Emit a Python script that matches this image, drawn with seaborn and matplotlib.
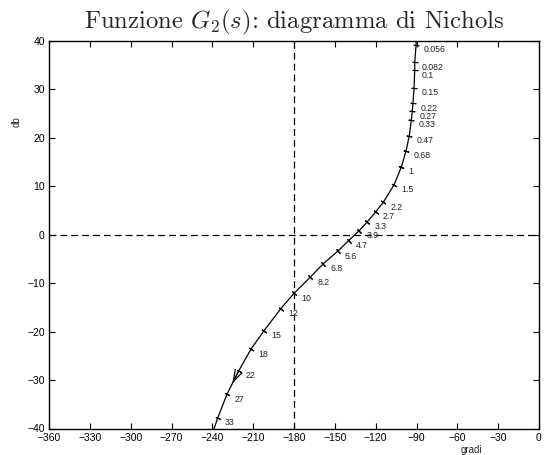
import numpy as np
import pandas as pd
import matplotlib
matplotlib.use("Agg")
import matplotlib.pyplot as plt
import seaborn as sns

# ---- data ----
freq_labels = ["0.056", "0.082", "0.1", "0.15", "0.22", "0.27", "0.33", "0.47",
               "0.68", "1", "1.5", "2.2", "2.7", "3.3", "3.9", "4.7", "5.6",
               "6.8", "8.2", "10", "12", "15", "18", "22", "27", "33"]
phase = [-90.3, -91.3, -91.3, -91.8, -92.6, -93.1, -93.8, -95.3,
         -97.7, -101.1, -106.5, -114.4, -120.0, -126.1, -132.2, -139.8, -147.9,
         -158.5, -168.2, -180.0, -189.8, -202.0, -211.6, -220.6, -229.2, -236.0]
mag = [39.2, 35.6, 34.0, 30.4, 27.1, 25.5, 23.7, 20.4,
       17.3, 14.0, 10.3, 6.7, 4.7, 2.7, 0.8, -1.2, -3.4,
       -6.0, -8.8, -12.1, -15.3, -19.8, -23.6, -28.1, -32.9, -37.8]
# curve ends outside the visible window
phase_start, mag_start = [-90.1], [42.0]
phase_end, mag_end = [-240.6], [-41.5]
# direction arrow on the curve
arrow_phase = [-220.6, -225.3]
arrow_mag = [-28.1, -30.7]

xticks = list(range(-360, 1, 30))
yticks = list(range(-40, 41, 10))

# ---- style ----
sns.set_theme(style="ticks")
plt.rcParams["font.family"] = ["Liberation Sans", "DejaVu Sans"]
plt.rcParams["mathtext.fontset"] = "cm"
plt.rcParams["axes.unicode_minus"] = True

fig = plt.figure(figsize=(5.44, 4.55), dpi=100)
fig.subplots_adjust(left=49/544, right=539/544, bottom=1-428.5/455, top=1-41/455)
ax = fig.add_subplot(111)

curve = pd.DataFrame({"phase": phase_start + phase + phase_end,
                      "mag": mag_start + mag + mag_end})
sns.lineplot(data=curve, x="phase", y="mag", sort=False, estimator=None,
             color="black", lw=0.9, ax=ax)

ax.set_xlim(-360, 0)
ax.set_ylim(-40, 40)
ax.set_xticks(xticks)
ax.set_yticks(yticks)

# reference dashed lines
ax.axvline(-180, color="black", lw=0.9, ls=(0, (5.5, 3.2)))
ax.axhline(0, color="black", lw=0.9, ls=(0, (5.5, 3.2)))

# frequency tick marks perpendicular to the curve
pts = ax.transData.transform(np.column_stack([phase, mag]))
n = len(phase)
for i in range(n):
    a = pts[max(i - 1, 0)]
    b = pts[min(i + 1, n - 1)]
    ang = np.degrees(np.arctan2(b[1] - a[1], b[0] - a[0]))
    ax.plot([phase[i]], [mag[i]], marker=(2, 2, ang), markersize=4,
            markeredgewidth=0.8, color="black", ls="none")
    ax.annotate(freq_labels[i], (phase[i], mag[i]), xytext=(5.2, -3.6),
                textcoords="offset points", ha="left", va="center",
                fontsize=6.3, color="#222222")

ax.annotate("", xy=(arrow_phase[1], arrow_mag[1]),
            xytext=(arrow_phase[0], arrow_mag[0]),
            arrowprops=dict(arrowstyle="->,head_length=0.7,head_width=0.22",
                            lw=0.9, color="black", shrinkA=0, shrinkB=0))

# axes look (MATLAB-like box with inward ticks)
for s in ax.spines.values():
    s.set_visible(True)
    s.set_linewidth(1.0)
    s.set_color("black")
ax.tick_params(direction="in", length=4, width=0.8, top=True, right=True,
               labelsize=7.5, pad=3, colors="black")
ax.grid(False)

ax.set_xlabel("gradi", fontsize=7)
ax.xaxis.set_label_coords(0.861, -0.042)
ax.set_ylabel("db", fontsize=7)
ax.yaxis.set_label_coords(-0.056, 0.791)

ax.set_title(r"Funzione $G_2(s)$: diagramma di Nichols", fontfamily="cmr10",
             fontsize=17.8, pad=9)

fig.savefig("out.png", dpi=100)
